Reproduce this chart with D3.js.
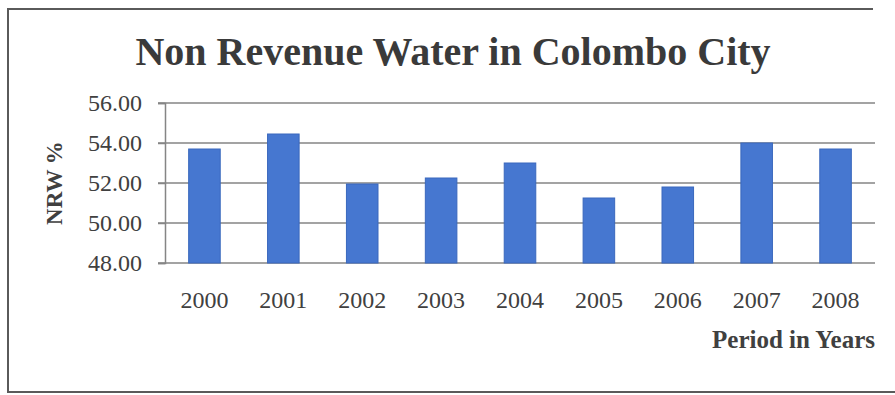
<!DOCTYPE html>
<html>
<head>
<meta charset="utf-8">
<script src="https://cdn.jsdelivr.net/npm/d3@7"></script>
<style>
  html, body { margin: 0; padding: 0; background: #fff; }
  svg { display: block; }
</style>
</head>
<body>
<svg id="chart" width="895" height="395"></svg>
<script>
// Non Revenue Water (NRW %) per year, Colombo City
const years = ["2000", "2001", "2002", "2003", "2004", "2005", "2006", "2007", "2008"];
const nrwValues = [53.7, 54.45, 51.95, 52.25, 53.0, 51.25, 51.8, 54.0, 53.7];
const yTicks = [48, 50, 52, 54, 56];

const svg = d3.select("#chart");
const W = 895, H = 395;
const margin = { left: 165, right: 20, top: 103, bottom: 132 };
const plotW = W - margin.left - margin.right;
const plotH = H - margin.top - margin.bottom;

const textColor = "#404040";
const gridColor = "#858585";
const serif = "'Liberation Serif', 'Times New Roman', serif";

svg.append("rect").attr("width", W).attr("height", H).attr("fill", "#fff");

// Outer frame (left, top, bottom edges)
const frame = svg.append("g").attr("stroke", "#5a5a5a").attr("stroke-width", 2).attr("fill", "none");
frame.append("path").attr("d", `M873,9 H8 V392 H895`);

const x = d3.scaleBand().domain(years).range([margin.left, margin.left + plotW]).paddingInner(0.6).paddingOuter(0.3);
const y = d3.scaleLinear().domain([48, 56]).range([margin.top + plotH, margin.top]);

// Horizontal gridlines
svg.append("g")
  .selectAll("line")
  .data(yTicks)
  .join("line")
  .attr("x1", margin.left - 7)
  .attr("x2", margin.left + plotW)
  .attr("y1", d => y(d))
  .attr("y2", d => y(d))
  .attr("stroke", gridColor)
  .attr("stroke-width", 1.5);

// Y axis
const yAxis = svg.append("g")
  .attr("transform", `translate(${margin.left},0)`)
  .call(d3.axisLeft(y).tickValues(yTicks).tickFormat(d3.format(".2f")).tickSize(7).tickPadding(16));
yAxis.attr("font-family", serif).attr("font-size", 24);
yAxis.select(".domain").attr("stroke", gridColor).attr("stroke-width", 1.5);
yAxis.selectAll(".tick line").attr("stroke", gridColor).attr("stroke-width", 1.5);
yAxis.selectAll("text").attr("fill", textColor);

// Bars
svg.append("g")
  .selectAll("rect")
  .data(years.map((yr, i) => ({ yr, v: nrwValues[i] })))
  .join("rect")
  .attr("x", d => x(d.yr))
  .attr("width", x.bandwidth())
  .attr("y", d => y(d.v))
  .attr("height", d => y(48) - y(d.v))
  .attr("fill", "#4677d0")
  .attr("stroke", "#3a68bd")
  .attr("stroke-width", 1);

// X axis labels
const xAxis = svg.append("g")
  .attr("transform", `translate(0,${margin.top + plotH})`)
  .call(d3.axisBottom(x).tickSize(0).tickPadding(28));
xAxis.attr("font-family", serif).attr("font-size", 24);
xAxis.select(".domain").remove();
xAxis.selectAll("text").attr("fill", textColor);

// Title
svg.append("text")
  .attr("x", 453)
  .attr("y", 65)
  .attr("text-anchor", "middle")
  .attr("font-family", serif)
  .attr("font-weight", "bold")
  .attr("font-size", 40)
  .attr("fill", "#3a3a3a")
  .text("Non Revenue Water in Colombo City");

// Y axis title
svg.append("text")
  .attr("transform", `translate(62,${(y(48) + y(56)) / 2}) rotate(-90)`)
  .attr("text-anchor", "middle")
  .attr("font-family", serif)
  .attr("font-weight", "bold")
  .attr("font-size", 23)
  .attr("fill", textColor)
  .text("NRW %");

// X axis title
svg.append("text")
  .attr("x", 875)
  .attr("y", 348)
  .attr("text-anchor", "end")
  .attr("font-family", serif)
  .attr("font-weight", "bold")
  .attr("font-size", 25)
  .attr("fill", textColor)
  .text("Period in Years");
</script>
</body>
</html>
